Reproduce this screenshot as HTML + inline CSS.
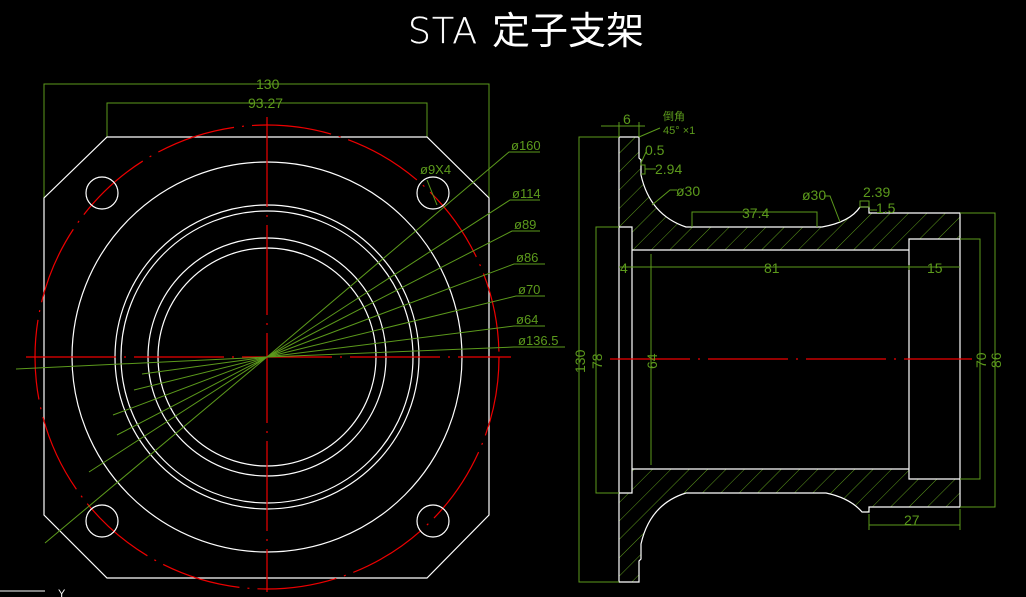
<!DOCTYPE html>
<html><head><meta charset="utf-8"><style>
html,body{margin:0;padding:0;background:#000;}
svg{display:block}
text{font-family:"Liberation Sans","Noto Sans CJK SC",sans-serif;}
</style></head><body>
<svg width="1026" height="597" viewBox="0 0 1026 597" xmlns="http://www.w3.org/2000/svg">
<defs>
<pattern id="h" patternUnits="userSpaceOnUse" width="13" height="13" patternTransform="rotate(45)">
<line x1="0" y1="0" x2="0" y2="13" stroke="#5c9a1c" stroke-width="1"/>
</pattern>
</defs>
<!-- title -->
<text x="408" y="43" font-size="36" fill="#fff" stroke="#fff" stroke-width="0.3" letter-spacing="7" textLength="76" style="font-family:'DejaVu Sans',sans-serif;font-weight:200">STA</text>
<text x="492" y="44" font-size="38" fill="#fff" style="font-family:'Noto Sans CJK SC',sans-serif">定子支架</text>

<!-- LEFT VIEW -->
<g stroke="#5c9a1c" fill="none" stroke-width="1">
<polyline points="44,198 44,84 489,84 489,198"/>
<polyline points="107,137 107,103 427,103 427,137"/>
</g>
<g fill="#5c9a1c" font-size="14">
<text x="256" y="89">130</text>
<text x="248" y="108">93.27</text>
</g>
<polygon points="107,137 427,137 489,198 489,515 427,578 107,578 44,515 44,198" fill="none" stroke="#fff" stroke-width="1.2"/>
<circle cx="267" cy="357" r="232" fill="none" stroke="#e00" stroke-width="1.2" stroke-dasharray="80,8,2,8"/>
<g fill="none" stroke="#fff" stroke-width="1.2">
<circle cx="267" cy="357" r="195"/>
<circle cx="267" cy="357" r="152"/>
<circle cx="267" cy="357" r="146"/>
<circle cx="267" cy="357" r="119"/>
<circle cx="267" cy="357" r="109"/>
<circle cx="102" cy="193" r="16"/>
<circle cx="433" cy="193" r="16"/>
<circle cx="102" cy="521" r="16"/>
<circle cx="433" cy="521" r="16"/>
</g>
<g stroke="#e00" stroke-width="1.2" stroke-dasharray="90,8,2,8">
<line x1="267" y1="117" x2="267" y2="592"/>
<line x1="26" y1="357" x2="511" y2="357"/>
</g>
<g stroke="#5c9a1c" stroke-width="1" fill="none">
<polyline points="45,543 267,357 509,152 540,152"/>
<polyline points="89,472 267,357 510,200 540,200"/>
<polyline points="117,435 267,357 512,231 540,231"/>
<polyline points="113,415 267,357 514,264 545,264"/>
<polyline points="134,390 267,357 516,296 545,296"/>
<polyline points="142,374 267,357 514,326 545,326"/>
<polyline points="16,369 267,357 514,347 565,347"/>
<line x1="427" y1="180" x2="437" y2="205"/>
</g>
<g fill="#5c9a1c" font-size="13">
<text x="511" y="150">ø160</text>
<text x="512" y="198">ø114</text>
<text x="514" y="229">ø89</text>
<text x="516" y="262">ø86</text>
<text x="518" y="294">ø70</text>
<text x="516" y="324">ø64</text>
<text x="518" y="345">ø136.5</text>
<text x="420" y="174">ø9X4</text>
</g>
<line x1="0" y1="591" x2="45" y2="591" stroke="#fff"/>
<text x="58" y="597" fill="#fff" font-size="11">Y</text>

<!-- RIGHT VIEW -->
<path d="M619,137 L639,137 L639,158 L641,160 L641,175 Q650,215 686,227 L822,227 Q850,222 860,207 L869,207 L869,213 L960,213 L960,239 L909,239 L909,250 L632,250 L632,227 L619,227 Z" fill="url(#h)"/>
<path d="M619,582 L639,582 L639,561 L641,559 L641,544 Q650,504 686,493 L826,493 Q850,498 862,512 L869,512 L869,507 L960,507 L960,479 L909,479 L909,469 L632,469 L632,493 L619,493 Z" fill="url(#h)"/>
<g fill="none" stroke="#fff" stroke-width="1.2">
<path d="M619,137 L639,137 L639,158 L641,160 L641,175 Q650,215 686,227 L822,227 Q850,222 860,207 L869,207 L869,213 L960,213 L960,507 L869,507 L869,512 L862,512 Q850,498 826,493 L686,493 Q650,504 641,544 L641,559 L639,561 L639,582 L619,582 Z"/>
<polyline points="619,227 632,227 632,493 619,493"/>
<line x1="632" y1="250" x2="909" y2="250"/>
<line x1="632" y1="469" x2="909" y2="469"/>
<polyline points="960,239 909,239 909,479 960,479"/>
</g>
<line x1="610" y1="359" x2="972" y2="359" stroke="#e00" stroke-width="1.2" stroke-dasharray="80,8,2,8"/>
<g stroke="#5c9a1c" fill="none" stroke-width="1">
<polyline points="619,137 579,137 579,582 619,582"/>
<polyline points="619,227 596,227 596,493 619,493"/>
<line x1="651" y1="254" x2="651" y2="465"/>
<polyline points="960,239 980,239 980,479 960,479"/>
<polyline points="960,213 995,213 995,507 960,507"/>
<line x1="619" y1="267" x2="960" y2="267"/>
<line x1="909" y1="265" x2="909" y2="270"/>
<polyline points="692,227 692,212 817,212 817,227"/>
<line x1="869" y1="514" x2="869" y2="530"/>
<line x1="960" y1="509" x2="960" y2="530"/>
<line x1="869" y1="525" x2="960" y2="525"/>
<line x1="601" y1="126" x2="645" y2="126"/>
<line x1="619" y1="122" x2="619" y2="137"/>
<line x1="639" y1="122" x2="639" y2="137"/>
<line x1="639" y1="137" x2="660" y2="128"/>
<polyline points="641,163 641,165 645,165 645,174 641,174"/>
<line x1="645" y1="169" x2="656" y2="169"/>
<line x1="641" y1="163" x2="646" y2="152"/>
<polyline points="652,205 670,190 677,190"/>
<polyline points="824,196 830,196 840,222"/>
<rect x="860" y="201" width="9" height="6"/>
<line x1="869" y1="210" x2="877" y2="210"/>
</g>
<g fill="#5c9a1c" font-size="14">
<text x="623" y="124">6</text>
<text x="663" y="120" font-size="11">倒角</text>
<text x="663" y="134" font-size="11">45° ×1</text>
<text x="645" y="155">0.5</text>
<text x="655" y="174">2.94</text>
<text x="676" y="196">ø30</text>
<text x="742" y="218">37.4</text>
<text x="802" y="200">ø30</text>
<text x="863" y="197">2.39</text>
<text x="876" y="213">1.5</text>
<text x="620" y="273">4</text>
<text x="764" y="273">81</text>
<text x="927" y="273">15</text>
<text x="904" y="525">27</text>
<text transform="translate(585,373) rotate(-90)">130</text>
<text transform="translate(602,369) rotate(-90)">78</text>
<text transform="translate(657,369) rotate(-90)">64</text>
<text transform="translate(986,368) rotate(-90)">70</text>
<text transform="translate(1001,368) rotate(-90)">86</text>
</g>
</svg>
</body></html>
